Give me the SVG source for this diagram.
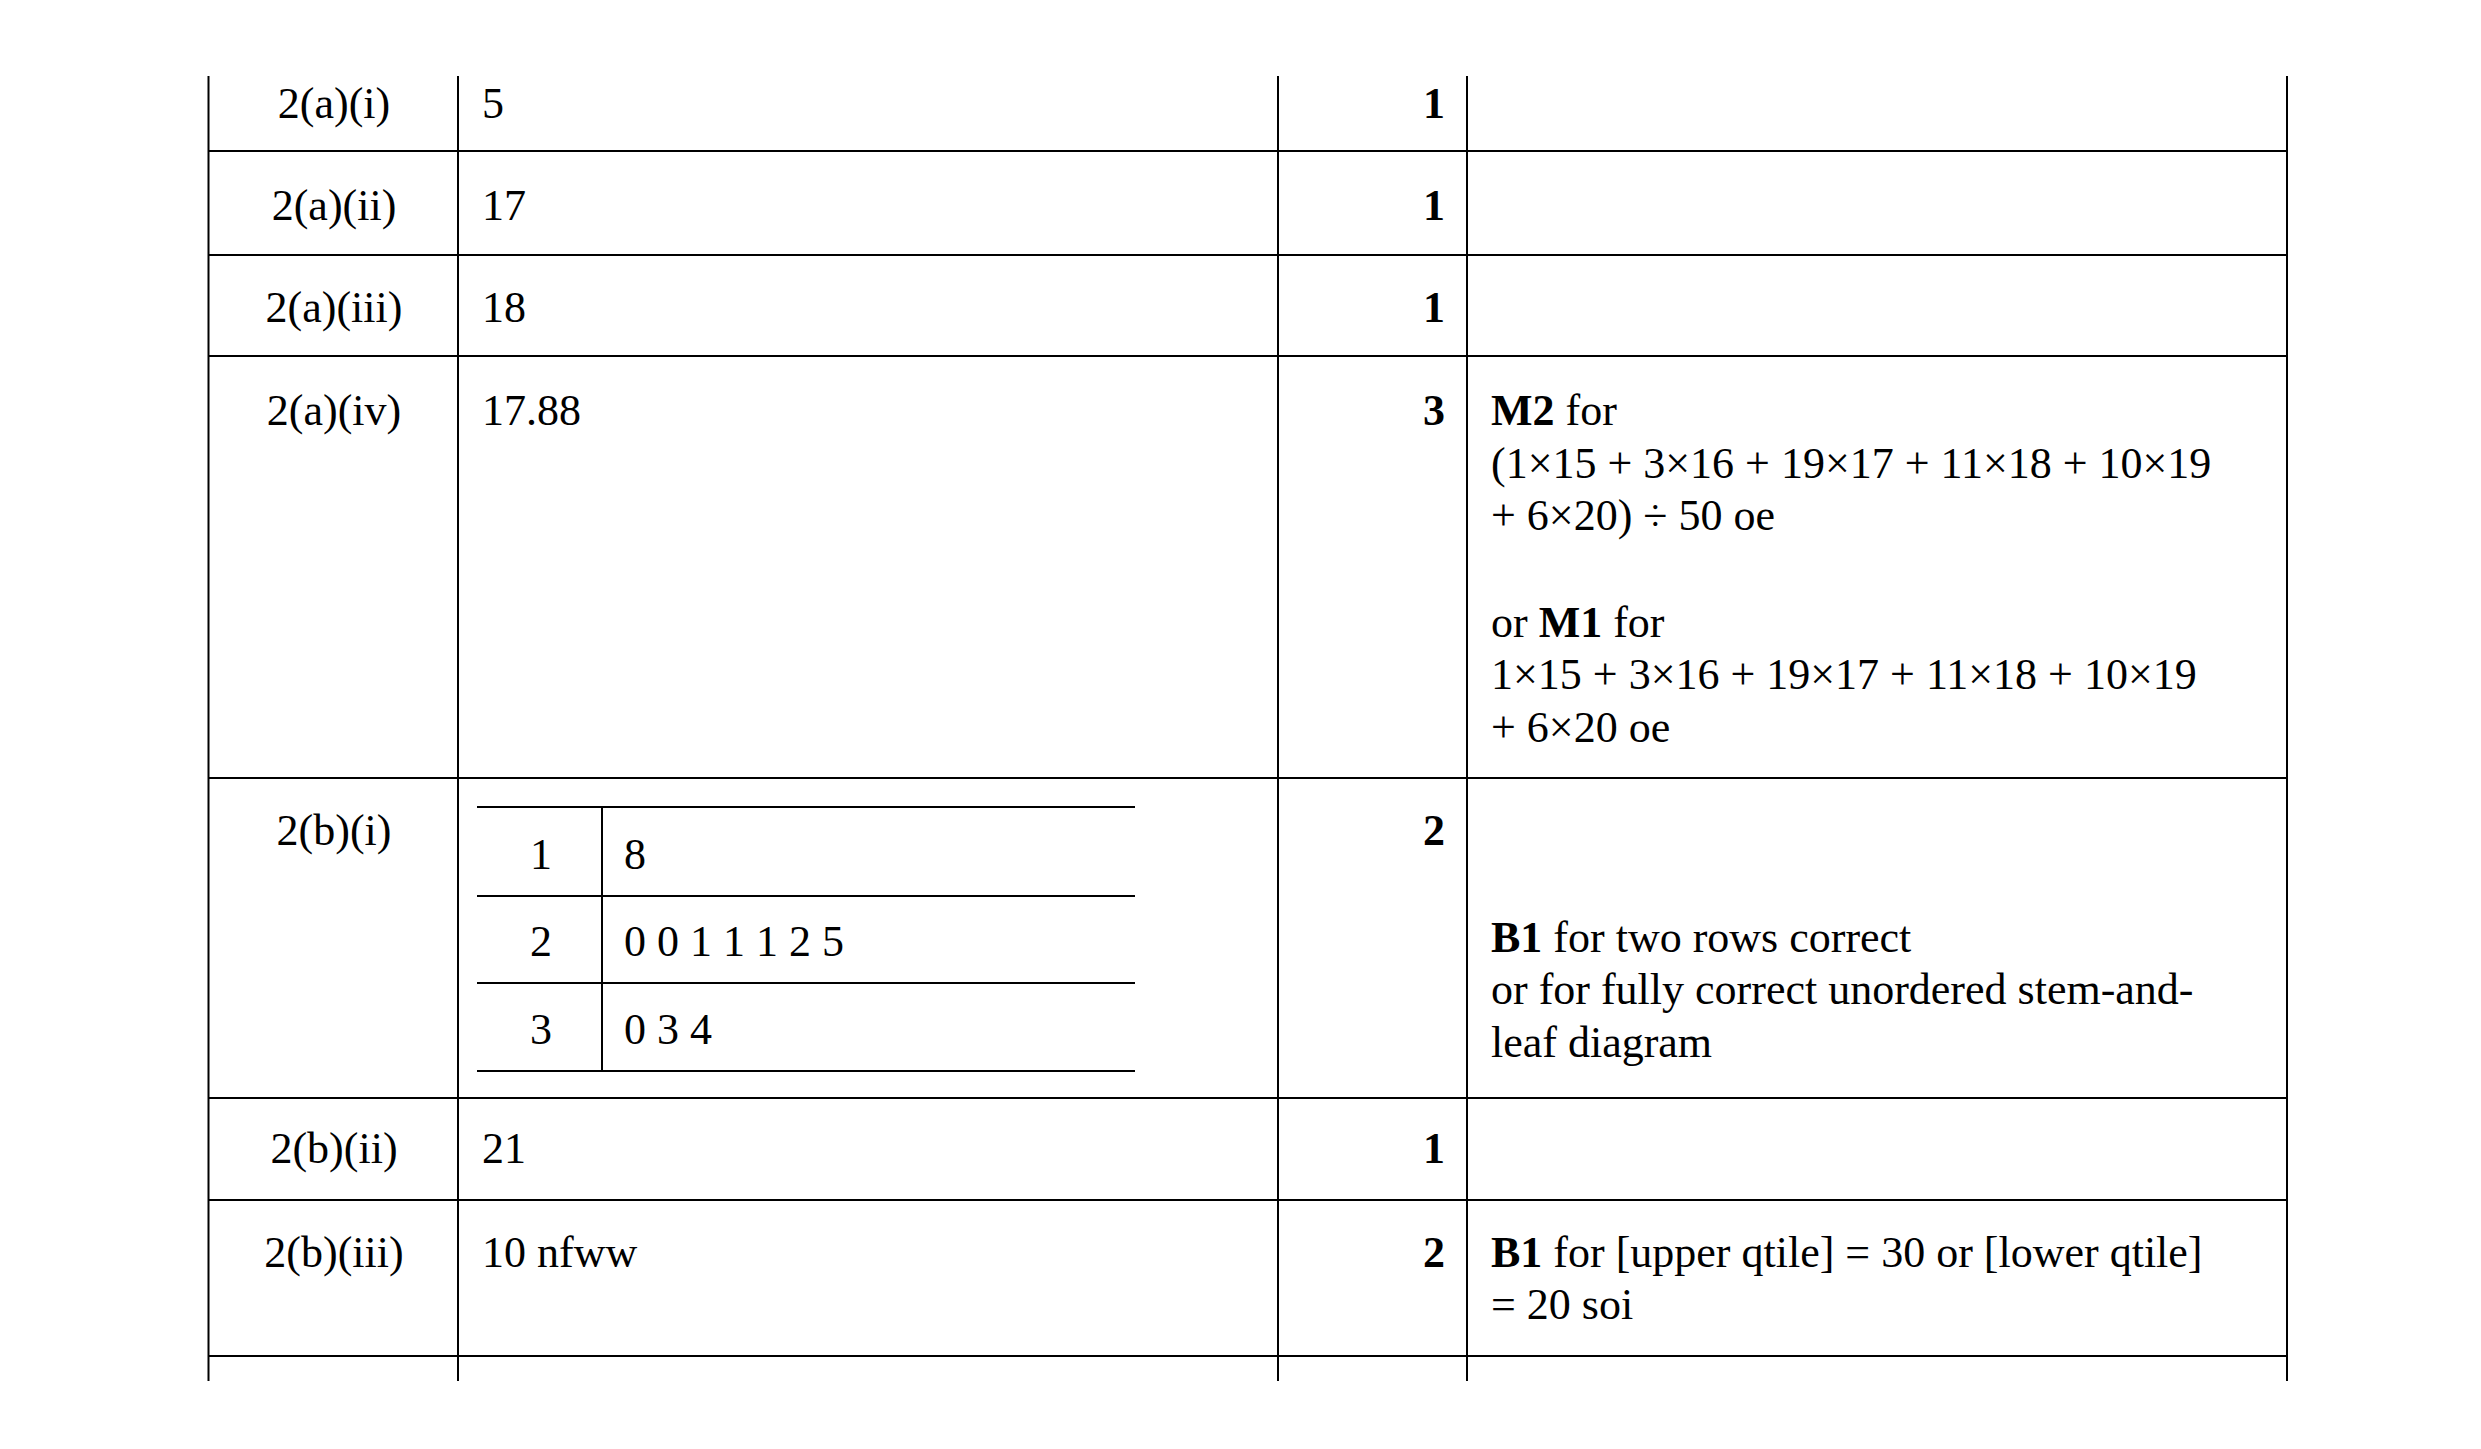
<svg xmlns="http://www.w3.org/2000/svg" width="2481" height="1449" viewBox="0 0 2481 1449">
<style>
text{font-family:"Liberation Serif","Times New Roman",serif;font-size:44px;fill:#000}
.c{text-anchor:middle}.r{text-anchor:end;font-weight:bold}
line{stroke:#000;stroke-width:2}
</style>
<rect width="2481" height="1449" fill="#fff"/>
<g id="grid">
<line x1="208.5" y1="76" x2="208.5" y2="1381"/><line x1="458" y1="76" x2="458" y2="1381"/>
<line x1="1278" y1="76" x2="1278" y2="1381"/><line x1="1467" y1="76" x2="1467" y2="1381"/>
<line x1="2287" y1="76" x2="2287" y2="1381"/>
<line x1="208" y1="151" x2="2288" y2="151"/><line x1="208" y1="255" x2="2288" y2="255"/>
<line x1="208" y1="356" x2="2288" y2="356"/><line x1="208" y1="778" x2="2288" y2="778"/>
<line x1="208" y1="1098" x2="2288" y2="1098"/><line x1="208" y1="1200" x2="2288" y2="1200"/>
<line x1="208" y1="1356" x2="2288" y2="1356"/>
</g>
<g id="r1"><text class="c" x="334" y="118">2(a)(i)</text><text x="482" y="118">5</text><text class="r" x="1445" y="118">1</text></g>
<g id="r2"><text class="c" x="334" y="220">2(a)(ii)</text><text x="482" y="220">17</text><text class="r" x="1445" y="220">1</text></g>
<g id="r3"><text class="c" x="334" y="322">2(a)(iii)</text><text x="482" y="322">18</text><text class="r" x="1445" y="322">1</text></g>
<g id="r4"><text class="c" x="334" y="425">2(a)(iv)</text><text x="482" y="425">17.88</text><text class="r" x="1445" y="425">3</text>
<text x="1491" y="425"><tspan font-weight="bold">M2</tspan> for</text>
<text x="1491" y="478">(1×15 + 3×16 + 19×17 + 11×18 + 10×19</text>
<text x="1491" y="530">+ 6×20) ÷ 50 oe</text>
<text x="1491" y="637">or <tspan font-weight="bold">M1</tspan> for</text>
<text x="1491" y="689">1×15 + 3×16 + 19×17 + 11×18 + 10×19</text>
<text x="1491" y="742">+ 6×20 oe</text></g>
<g id="r5"><text class="c" x="334" y="845">2(b)(i)</text><text class="r" x="1445" y="845">2</text>
<line x1="477" y1="807" x2="1135" y2="807"/><line x1="477" y1="896" x2="1135" y2="896"/>
<line x1="477" y1="983" x2="1135" y2="983"/><line x1="477" y1="1071" x2="1135" y2="1071"/>
<line x1="602" y1="807" x2="602" y2="1071"/>
<text class="c" x="541" y="869">1</text><text x="624" y="869">8</text>
<text class="c" x="541" y="956">2</text><text x="624" y="956">0 0 1 1 1 2 5</text>
<text class="c" x="541" y="1044">3</text><text x="624" y="1044">0 3 4</text>
<text x="1491" y="952"><tspan font-weight="bold">B1</tspan> for two rows correct</text>
<text x="1491" y="1004">or for fully correct unordered stem-and-</text>
<text x="1491" y="1057">leaf diagram</text></g>
<g id="r6"><text class="c" x="334" y="1163">2(b)(ii)</text><text x="482" y="1163">21</text><text class="r" x="1445" y="1163">1</text></g>
<g id="r7"><text class="c" x="334" y="1267">2(b)(iii)</text><text x="482" y="1267">10 nfww</text><text class="r" x="1445" y="1267">2</text>
<text x="1491" y="1267"><tspan font-weight="bold">B1</tspan> for [upper qtile] = 30 or [lower qtile]</text>
<text x="1491" y="1319">= 20 soi</text></g>
</svg>
